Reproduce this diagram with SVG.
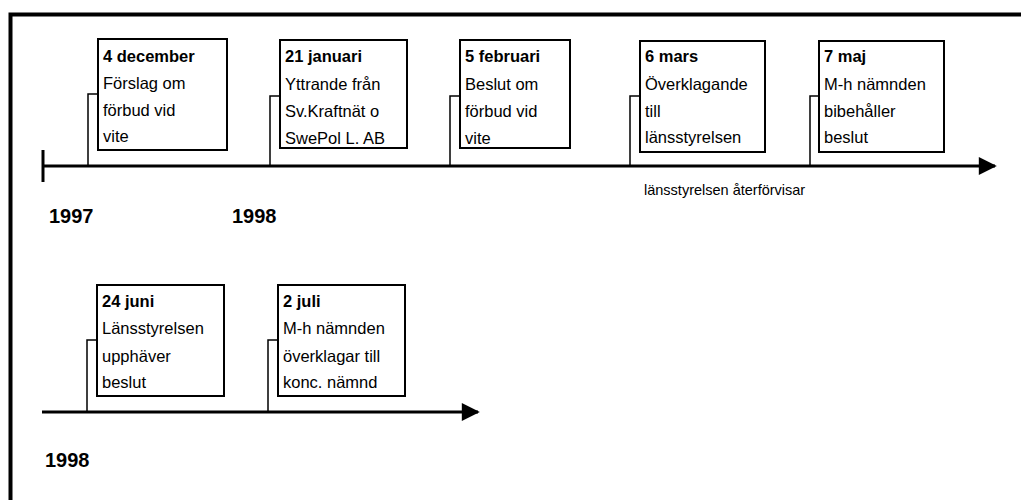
<svg xmlns="http://www.w3.org/2000/svg" width="1021" height="500" viewBox="0 0 1021 500">
<style>
.box{fill:#fff;stroke:#000;stroke-width:2}
.br{fill:none;stroke:#000;stroke-width:1.5}
.tl{fill:none;stroke:#000;stroke-width:3}
.t{font-family:"Liberation Sans",Arial,sans-serif;font-size:16.5px;fill:#000}
.d{font-weight:bold}
.y{font-family:"Liberation Sans",Arial,sans-serif;font-size:20px;font-weight:bold;fill:#000}
.n{font-family:"Liberation Sans",Arial,sans-serif;font-size:14.5px;fill:#000}
</style>
<defs>
<marker id="ah" viewBox="0 0 10 10" refX="9" refY="5" markerWidth="6.5" markerHeight="6" markerUnits="strokeWidth" orient="auto">
<path d="M0,0 L10,5 L0,10 Z" fill="#000"/>
</marker>
</defs>
<rect width="1021" height="500" fill="#fff"/>
<g id="frame">
<path d="M10.5,500 V14.5 H1021" fill="none" stroke="#000" stroke-width="4"/>
</g>
<g id="connectors">
<path class="tl" d="M43,166 H995" marker-end="url(#ah)"/>
<path class="tl" d="M43,150 V182" stroke-width="2"/>
<path class="tl" d="M42,412 H478" marker-end="url(#ah)"/>
<path class="br" d="M88,166 V94 H98"/>
<path class="br" d="M270,166 V96 H280"/>
<path class="br" d="M450,166 V96 H460"/>
<path class="br" d="M630,166 V96 H640"/>
<path class="br" d="M810,166 V96 H819"/>
<path class="br" d="M87,412 V340 H97"/>
<path class="br" d="M268,412 V340 H278"/>
</g>
<g id="n1">
<rect class="box" x="98" y="39" width="129" height="111"/>
<text class="t"><tspan class="d" x="103" y="62">4 december</tspan><tspan x="103" y="89">Förslag om</tspan><tspan x="103" y="116">förbud vid</tspan><tspan x="103" y="142">vite</tspan></text>
</g>
<g id="n2">
<rect class="box" x="280" y="40" width="127" height="108"/>
<text class="t"><tspan class="d" x="285" y="62">21 januari</tspan><tspan x="285" y="90">Yttrande från</tspan><tspan x="285" y="117">Sv.Kraftnät o</tspan><tspan x="285" y="144">SwePol L. AB</tspan></text>
</g>
<g id="n3">
<rect class="box" x="460" y="40" width="110" height="108"/>
<text class="t"><tspan class="d" x="465" y="62">5 februari</tspan><tspan x="465" y="90">Beslut om</tspan><tspan x="465" y="117">förbud vid</tspan><tspan x="465" y="144">vite</tspan></text>
</g>
<g id="n4">
<rect class="box" x="640" y="41" width="125" height="111"/>
<text class="t"><tspan class="d" x="645" y="62">6 mars</tspan><tspan x="645" y="90">Överklagande</tspan><tspan x="645" y="117">till</tspan><tspan x="645" y="143">länsstyrelsen</tspan></text>
</g>
<g id="n5">
<rect class="box" x="819" y="41" width="125" height="111"/>
<text class="t"><tspan class="d" x="824" y="62">7 maj</tspan><tspan x="824" y="90">M-h nämnden</tspan><tspan x="824" y="117">bibehåller</tspan><tspan x="824" y="143">beslut</tspan></text>
</g>
<g id="n6">
<rect class="box" x="97" y="285" width="127" height="111"/>
<text class="t"><tspan class="d" x="102" y="307">24 juni</tspan><tspan x="102" y="334">Länsstyrelsen</tspan><tspan x="102" y="362">upphäver</tspan><tspan x="102" y="388">beslut</tspan></text>
</g>
<g id="n7">
<rect class="box" x="278" y="285" width="127" height="111"/>
<text class="t"><tspan class="d" x="283" y="307">2 juli</tspan><tspan x="283" y="334">M-h nämnden</tspan><tspan x="283" y="362">överklagar till</tspan><tspan x="283" y="388">konc. nämnd</tspan></text>
</g>
<g id="labels">
<text class="n" x="644" y="195">länsstyrelsen återförvisar</text>
<text class="y" x="49" y="223">1997</text>
<text class="y" x="232" y="223">1998</text>
<text class="y" x="45" y="467">1998</text>
</g>
</svg>
